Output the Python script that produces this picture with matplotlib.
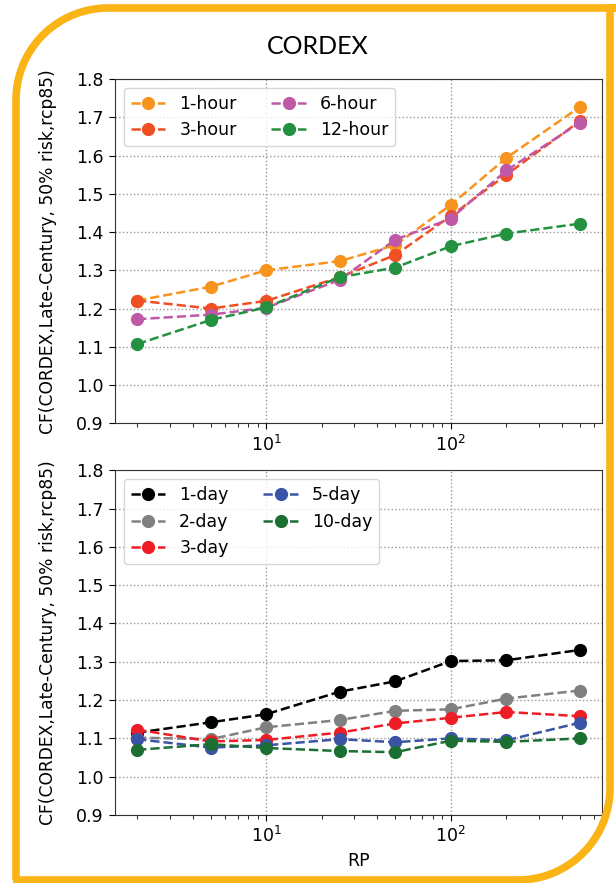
import sys
import numpy as np
import matplotlib
matplotlib.use('Agg')
import matplotlib.pyplot as plt
from matplotlib.path import Path
from matplotlib.patches import PathPatch

#  return periods (years)
rp = [2, 5, 10, 25, 50, 100, 200, 500]

#  sub-daily durations (top panel)
hour_labels = ['1-hour', '3-hour', '6-hour', '12-hour']
hour_1 = [1.221, 1.257, 1.300, 1.324, 1.366, 1.471, 1.594, 1.727]
hour_3 = [1.221, 1.200, 1.220, 1.282, 1.340, 1.442, 1.550, 1.690]
hour_6 = [1.172, 1.184, 1.202, 1.275, 1.380, 1.435, 1.561, 1.686]
hour_12 = [1.107, 1.170, 1.203, 1.282, 1.307, 1.363, 1.396, 1.422]
hour_colors = ['#F7941D', '#F04E23', '#C058A8', '#23913F']

#  daily durations (bottom panel)
day_labels = ['1-day', '2-day', '3-day', '5-day', '10-day']
day_1 = [1.115, 1.142, 1.163, 1.222, 1.249, 1.302, 1.304, 1.331]
day_2 = [1.102, 1.098, 1.129, 1.148, 1.172, 1.176, 1.204, 1.225]
day_3 = [1.123, 1.092, 1.096, 1.115, 1.139, 1.154, 1.169, 1.158]
day_5 = [1.098, 1.076, 1.082, 1.098, 1.090, 1.100, 1.095, 1.141]
day_10 = [1.070, 1.085, 1.075, 1.067, 1.064, 1.094, 1.091, 1.100]
day_colors = ['#000000', '#808080', '#EE1C25', '#3A53A4', '#1B6F32']

ylabel = 'CF(CORDEX,Late-Century, 50% risk,rcp85)'
W, H, DPI = 616, 883, 100
FS = 12.5


def style_axes(ax):
    ax.set_xscale('log')
    ax.set_ylim(0.9, 1.8)
    ax.set_yticks(np.arange(0.9, 1.81, 0.1))
    ax.grid(True, which='major', linestyle=':', color='#999999', linewidth=1.0)
    ax.tick_params(labelsize=FS, length=4.5)
    ax.tick_params(which='minor', length=3)
    for sp in ax.spines.values():
        sp.set_color('#333333')
    ax.set_ylabel(ylabel, fontsize=12.3)
    ax.yaxis.set_label_coords(-0.119, 0.5)


def draw_border(fig):
    """frame with rounded top-left and bottom-right corners, in pixels"""
    r = 92
    xl, xr, yt, yb = 16, 610, 8, 880
    pts = [(xl, yb), (xl, yt + r)]
    a = np.linspace(np.pi, 1.5 * np.pi, 30)
    pts += list(zip(xl + r + r * np.cos(a), yt + r + r * np.sin(a)))
    pts += [(W + 5, yt), (xr, yt), (xr, yb - r)]
    a = np.linspace(0, 0.5 * np.pi, 30)
    pts += list(zip(xr - r + r * np.cos(a), yb - r + r * np.sin(a)))
    pts += [(xl - 3, yb)]
    verts = [(x / DPI, (H - y) / DPI) for x, y in pts]
    patch = PathPatch(Path(verts), facecolor='none', edgecolor='#FBB416',
                      linewidth=5.5, transform=fig.dpi_scale_trans,
                      clip_on=False, joinstyle='miter')
    fig.add_artist(patch)


def main():
    fig = plt.figure(figsize=(W / DPI, H / DPI), dpi=DPI)

    ax1 = fig.add_axes([0.1867, 0.5206, 0.7906, 0.3899])
    for vals, lab, col in zip([hour_1, hour_3, hour_6, hour_12], hour_labels, hour_colors):
        ax1.plot(rp, vals, '--o', color=col, label=lab, linewidth=1.8, markersize=8.5)
    style_axes(ax1)
    ax1.legend(loc='upper left', ncol=2, fontsize=FS)

    ax2 = fig.add_axes([0.1867, 0.0770, 0.7906, 0.3904])
    for vals, lab, col in zip([day_1, day_2, day_3, day_5, day_10], day_labels, day_colors):
        ax2.plot(rp, vals, '--o', color=col, label=lab, linewidth=1.8, markersize=8.5)
    style_axes(ax2)
    ax2.legend(loc='upper left', ncol=2, fontsize=FS)
    ax2.set_xlabel('RP', fontsize=FS)

    fig.text(0.516, 0.9468, 'CORDEX', fontsize=18, family='Lato',
             ha='center', va='center')

    draw_border(fig)

    plt.savefig('out.png', dpi=DPI)


if __name__ == '__main__':
    sys.exit(main())
